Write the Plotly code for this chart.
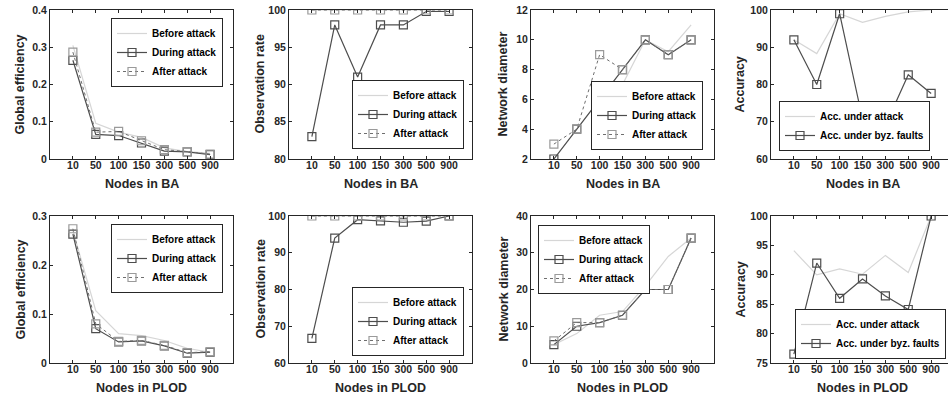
import plotly.graph_objects as go

W, H = 948, 407

nodes = ["10", "50", "100", "150", "300", "500", "900"]

# BA network
ba_eff_before = [0.305, 0.096, 0.072, 0.058, 0.030, 0.020, 0.015]
ba_eff_during = [0.265, 0.066, 0.063, 0.043, 0.021, 0.019, 0.012]
ba_eff_after = [0.287, 0.072, 0.074, 0.049, 0.025, 0.020, 0.013]

ba_obs_before = [100, 100, 100, 100, 100, 100, 100]
ba_obs_during = [83, 98, 91, 98, 98, 99.8, 99.8]
ba_obs_after = [100, 100, 100, 100, 100, 100, 100]

ba_dia_before = [2, 4, 6, 7, 10, 9.2, 11]
ba_dia_during = [2, 4, 6, 8, 10, 9, 10]
ba_dia_after = [3, 4, 9, 8, 10, 9, 10]

ba_acc_attack = [92, 88.3, 99, 96.7, 98.3, 99.5, 100]
ba_acc_byz = [92, 80, 99, 70.7, 69, 82.6, 77.6]

# PLOD network
plod_eff_before = [0.270, 0.107, 0.060, 0.056, 0.046, 0.030, 0.022]
plod_eff_during = [0.263, 0.070, 0.043, 0.045, 0.035, 0.020, 0.022]
plod_eff_after = [0.274, 0.080, 0.044, 0.046, 0.036, 0.021, 0.023]

plod_obs_before = [100, 100, 100, 100, 100, 100, 100]
plod_obs_during = [66.7, 94, 99, 98.7, 98.3, 98.6, 100]
plod_obs_after = [100, 100, 100, 100, 100, 100, 100]

plod_dia_before = [5, 8, 13, 14, 21, 29, 34]
plod_dia_during = [5, 10, 11, 13, 20, 20, 34]
plod_dia_after = [6, 11, 11, 13, 20, 20, 34]

plod_acc_attack = [94.1, 90.0, 91.0, 90.1, 93.3, 90.4, 100]
plod_acc_byz = [76.5, 92.0, 86.0, 89.3, 86.4, 84.1, 100]

FONT = "Liberation Sans, Arial, sans-serif"
AX = "#262626"
C_BEFORE = "#d6d6d6"
C_DURING = "#4d4d4d"
C_AFTER_LINE = "#6e6e6e"
C_AFTER_MK = "#9a9a9a"

fig = go.Figure()

# panel geometry in window pixels: (left, right), (top, bottom)
cols_px = [(50, 233), (289, 472), (531, 714), (771, 954)]
rows_px = [(10, 159), (216, 363)]

def px_x(p):
    return p / W

def px_y(p):
    return 1 - p / H

panels = [
    (0, 0, "three", (ba_eff_before, ba_eff_during, ba_eff_after), [0, 0.4], 0.1, "Global efficiency", "Nodes in BA",
     dict(x=223, y=18, xa="right", ya="top")),
    (0, 1, "three", (ba_obs_before, ba_obs_during, ba_obs_after), [80, 100], 5, "Observation rate", "Nodes in BA",
     dict(x=464, y=149, xa="right", ya="bottom")),
    (0, 2, "three", (ba_dia_before, ba_dia_during, ba_dia_after), [2, 12], 2, "Network diameter", "Nodes in BA",
     dict(x=703, y=150, xa="right", ya="bottom")),
    (0, 3, "two", (ba_acc_attack, ba_acc_byz), [60, 100], 10, "Accuracy", "Nodes in BA",
     dict(x=930, y=151, xa="right", ya="bottom")),
    (1, 0, "three", (plod_eff_before, plod_eff_during, plod_eff_after), [0, 0.3], 0.1, "Global efficiency", "Nodes in PLOD",
     dict(x=223, y=224, xa="right", ya="top")),
    (1, 1, "three", (plod_obs_before, plod_obs_during, plod_obs_after), [60, 100], 10, "Observation rate", "Nodes in PLOD",
     dict(x=464, y=356, xa="right", ya="bottom")),
    (1, 2, "three", (plod_dia_before, plod_dia_during, plod_dia_after), [0, 40], 10, "Network diameter", "Nodes in PLOD",
     dict(x=538, y=225, xa="left", ya="top")),
    (1, 3, "two", (plod_acc_attack, plod_acc_byz), [75, 100], 5, "Accuracy", "Nodes in PLOD",
     dict(x=946, y=359, xa="right", ya="bottom")),
]

ytitle_x = [20, 260, 503, 740]

layout = dict(
    width=W, height=H,
    margin=dict(l=0, r=0, t=0, b=0, autoexpand=False),
    paper_bgcolor="white", plot_bgcolor="white",
    font=dict(family=FONT, size=10, color=AX, weight="bold"),
    showlegend=True,
    annotations=[],
)

for i, (r, c, kind, series, yr, dt, ytitle, xtitle, leg) in enumerate(panels):
    n = i + 1
    xa = "x" if n == 1 else f"x{n}"
    ya = "y" if n == 1 else f"y{n}"
    xkey = "xaxis" if n == 1 else f"xaxis{n}"
    ykey = "yaxis" if n == 1 else f"yaxis{n}"
    lkey = "legend" if n == 1 else f"legend{n}"
    lref = lkey

    left, right = cols_px[c]
    top, bottom = rows_px[r]
    clipped = right > W
    dom_right = min(right, W)
    unit = (right - left) / 8.0
    xr_end = -1 + (dom_right - left) / unit

    layout[xkey] = dict(
        domain=[px_x(left), min(1.0, px_x(dom_right))], anchor=ya,
        type="category", categoryorder="array", categoryarray=nodes,
        range=[-1, xr_end],
        showline=True, linecolor=AX, linewidth=1, mirror="ticks",
        ticks="inside", ticklen=3, tickcolor=AX, tickwidth=1,
        ticklabelstandoff=-4,
        tickfont=dict(family=FONT, size=10.5, color=AX, weight="bold"),
        showgrid=False, zeroline=False, fixedrange=True,
    )
    layout[ykey] = dict(
        domain=[px_y(bottom), px_y(top)], anchor=xa,
        range=yr, dtick=dt, tick0=yr[0],
        showline=True, linecolor=AX, linewidth=1,
        mirror=False if clipped else "ticks",
        ticks="inside", ticklen=3, tickcolor=AX, tickwidth=1,
        ticklabelstandoff=0,
        tickfont=dict(family=FONT, size=10.5, color=AX, weight="bold"),
        showgrid=False, zeroline=False, fixedrange=True,
    )
    layout[lkey] = dict(
        x=px_x(leg["x"]), y=px_y(leg["y"]), xanchor=leg["xa"], yanchor=leg["ya"],
        xref="paper", yref="paper",
        bgcolor="white", bordercolor=AX, borderwidth=1,
        font=dict(family=FONT, size=10, color="black", weight="bold"),
        tracegroupgap=0, itemwidth=30,
    )

    if kind == "three":
        before, during, after = series
        fig.add_trace(go.Scatter(
            x=nodes, y=before, xaxis=xa, yaxis=ya, legend=lref, name="Before attack",
            mode="lines", line=dict(color=C_BEFORE, width=1.2)))
        fig.add_trace(go.Scatter(
            x=nodes, y=during, xaxis=xa, yaxis=ya, legend=lref, name="During attack",
            mode="lines+markers", line=dict(color=C_DURING, width=1.2),
            marker=dict(symbol="square-open", size=8, color=C_DURING, line=dict(width=1.2))))
        fig.add_trace(go.Scatter(
            x=nodes, y=after, xaxis=xa, yaxis=ya, legend=lref, name="After attack",
            mode="lines+markers", line=dict(color=C_AFTER_LINE, width=1, dash="dot"),
            marker=dict(symbol="square-open", size=8, color=C_AFTER_MK, line=dict(width=1.2))))
    else:
        attack, byz = series
        fig.add_trace(go.Scatter(
            x=nodes, y=attack, xaxis=xa, yaxis=ya, legend=lref, name="Acc. under attack",
            mode="lines", line=dict(color=C_BEFORE, width=1.2)))
        fig.add_trace(go.Scatter(
            x=nodes, y=byz, xaxis=xa, yaxis=ya, legend=lref, name="Acc. under byz. faults",
            mode="lines+markers", line=dict(color=C_DURING, width=1.2),
            marker=dict(symbol="square-open", size=8, color=C_DURING, line=dict(width=1.2))))

    layout["annotations"].append(dict(
        text=xtitle, xref="paper", yref="paper",
        x=px_x((left + right) / 2), y=px_y(bottom + 25),
        xanchor="center", yanchor="middle", showarrow=False,
        font=dict(family=FONT, size=12.5, color=AX, weight="bold")))
    layout["annotations"].append(dict(
        text=ytitle, xref="paper", yref="paper",
        x=px_x(ytitle_x[c]), y=px_y((top + bottom) / 2),
        xanchor="center", yanchor="middle", textangle=-90, showarrow=False,
        font=dict(family=FONT, size=12.5, color=AX, weight="bold")))

fig.update_layout(**layout)
fig.write_html(
    "out.html",
    config={"displayModeBar": False},
    post_script="document.body.style.margin='0';document.body.style.overflow='hidden';",
)
